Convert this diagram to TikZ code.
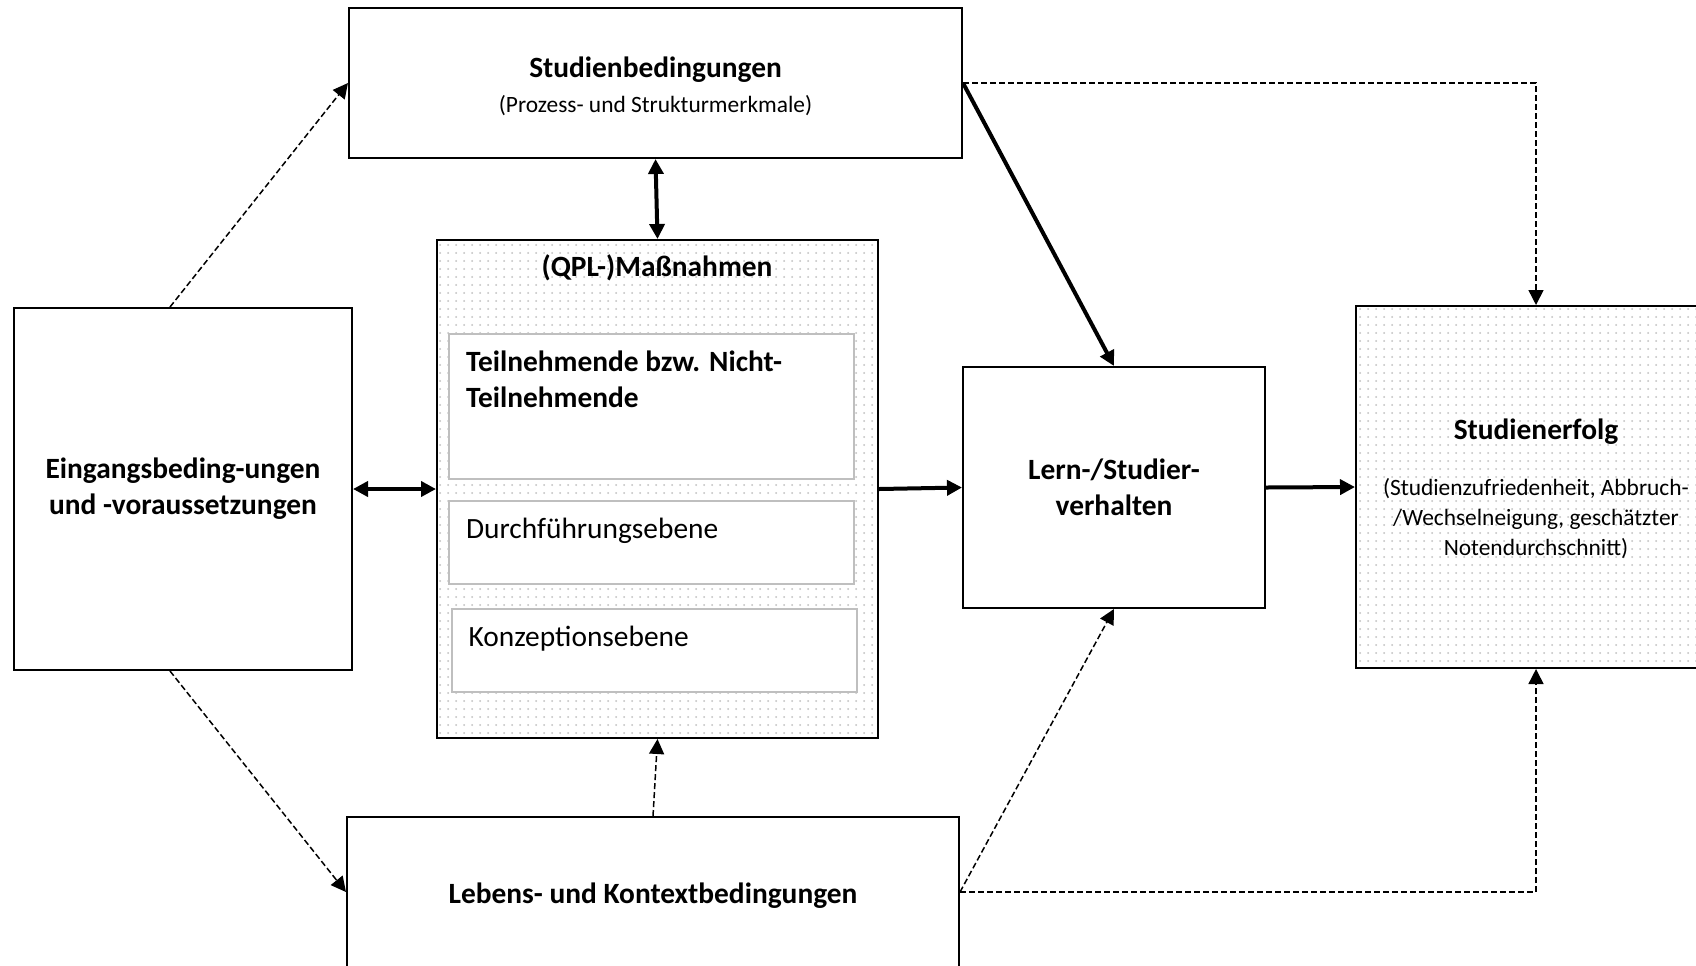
\documentclass[tikz,border=0pt]{standalone}
\usepackage{fontspec}
\setmainfont{Carlito}
\usetikzlibrary{arrows.meta,positioning,patterns}

\pgfdeclarepatternformonly{feinpunkte}{\pgfqpoint{-1pt}{-1pt}}{\pgfqpoint{1pt}{1pt}}{\pgfqpoint{4pt}{4pt}}%
  {\pgfpathcircle{\pgfqpoint{0pt}{0pt}}{0.5pt}\pgfusepath{fill}}

\begin{document}
\begin{tikzpicture}[x=0.5pt, y=-0.5pt,
    every node/.style={text=black, align=center},
    box/.style={draw, line width=1pt, inner sep=0pt},
    punktbox/.style={box, pattern=feinpunkte, pattern color=black!25},
    innenbox/.style={draw=black!25, line width=1pt, fill=white, inner sep=0pt,
      minimum width=202.5pt},
    titel/.style={font=\fontsize{14.7}{18}\selectfont\bfseries},
    normal/.style={font=\fontsize{14.7}{18}\selectfont},
    klein/.style={font=\fontsize{11.7}{15}\selectfont},
    spitze/.tip={Triangle[length=7.5pt,width=7.5pt]},
    dick/.style={line width=2pt, -spitze},
    dickbeide/.style={line width=2pt, spitze-spitze},
    gestrichelt/.style={line width=0.75pt, dash pattern=on 3pt off 1.5pt, -spitze},
    ]
  \fill[white] (0,0) rectangle (1696,965);
  \useasboundingbox (0,0) rectangle (1696,965);

  % Kaesten
  \node[box, minimum width=306.5pt, minimum height=75pt, titel] (stud) at (655.5,83)
    {\rule{0pt}{14pt}Studienbedingungen\\[-0.5pt]{\fontsize{11.7}{15}\selectfont\mdseries (Prozess- und Strukturmerkmale)}};
  \node[box, minimum width=169pt, minimum height=181pt, titel] (ein) at (183,489)
    {Eingangsbeding-ungen\\und -voraussetzungen};
  \node[punktbox, minimum width=220.5pt, minimum height=249pt] (mass) at (657.5,489) {};
  \node[titel] (masstitel) at (657,268) {(QPL-)Maßnahmen};
  \node[box, minimum width=151pt, minimum height=120.5pt, titel] (lern) at (1114,487.5)
    {Lern-/Studier-\\verhalten};
  \node[punktbox, minimum width=180pt, minimum height=181pt] (erfolg) at (1536,487) {};
  \node[klein] (erfolgtext) at ([yshift=-1pt]erfolg.center)
    {{\fontsize{14.7}{18}\selectfont\bfseries Studienerfolg}\\[13pt]
     (Studienzufriedenheit, Abbruch-\\/Wechselneigung, geschätzter\\Notendurchschnitt)};
  \node[box, minimum width=306pt, minimum height=75pt, titel] (leb) at (653,892)
    {\rule{0pt}{14pt}Lebens- und Kontextbedingungen};

  % Ebenen in den Massnahmen
  \node[innenbox, minimum height=72.5pt] (teil) at (651.5,406.5) {};
  \node[innenbox, minimum height=41.5pt] (durch) at (651.5,542.5) {};
  \node[innenbox, minimum height=41.5pt] (konz) at (654,650.5) {};
  \node[titel, align=left, below right=5.5pt and 5.5pt of teil.north west] {Teilnehmende bzw. Nicht-\\Teilnehmende};
  \node[normal, align=left, below right=5.5pt and 5.5pt of durch.north west] {Durchführungsebene};
  \node[normal, align=left, below right=5.5pt and 5.5pt of konz.north west] {Konzeptionsebene};

  % Pfeile
  \draw[gestrichelt] ([xshift=-6.5pt]ein.north) -- (stud.west);
  \draw[gestrichelt] ([xshift=-6.5pt]ein.south) -- (leb.west);
  \draw[dickbeide] (ein.east) -- (mass.west);
  \draw[dickbeide] (stud.south) -- (mass.north);
  \draw[dick] (mass.east) -- (lern.west);
  \draw[dick] (stud.east) -- (lern.north);
  \draw[gestrichelt] (stud.east) -- (erfolg.north |- stud.east) -- (erfolg.north);
  \draw[dick] (lern.east) -- (erfolg.west);
  \draw[gestrichelt] (leb.north) -- (mass.south);
  \draw[gestrichelt] (leb.east) -- (lern.south);
  \draw[gestrichelt] (leb.east) -- (erfolg.south |- leb.east) -- (erfolg.south);
\end{tikzpicture}
\end{document}
